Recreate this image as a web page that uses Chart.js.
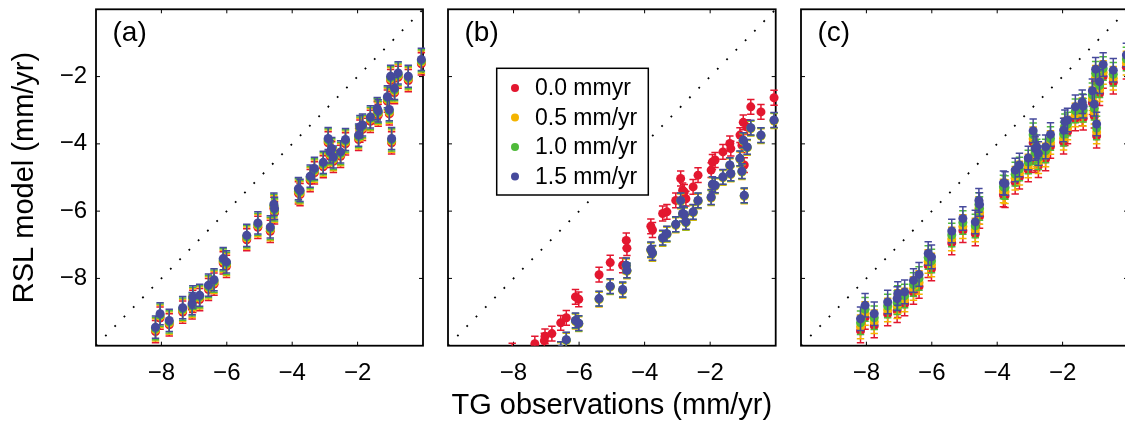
<!DOCTYPE html>
<html>
<head>
<meta charset="utf-8">
<script src="https://cdn.jsdelivr.net/npm/chart.js@4"></script>
<style>
  html, body { margin: 0; padding: 0; background: #fff; overflow: hidden; }
  body { width: 1125px; height: 424px; position: relative; }
  canvas { position: absolute; top: 0; }
</style>
</head>
<body>
<canvas id="panelA" width="440" height="424" style="left:0px"></canvas>
<canvas id="panelB" width="350" height="424" style="left:440px"></canvas>
<canvas id="panelC" width="350" height="424" style="left:790px"></canvas>
<script>
// TG observations (x), shared by all three panels
const tgObs = [-8.18, -8.04, -7.76, -7.35, -7.06, -7.04, -6.83, -6.56, -6.39, -6.11, -6.01,
  -5.39, -5.05, -4.67, -4.56, -4.54, -3.81, -3.76, -3.45, -3.32, -3.05, -2.90, -2.84, -2.79,
  -2.74, -2.52, -2.37, -1.97, -1.93, -1.85, -1.61, -1.40, -1.37, -1.09, -1.03, -0.99, -0.96,
  -0.87, -0.76, -0.45, -0.05];

// panel (a) RSL model
const rslA00 = [-9.58, -9.18, -9.38, -9.00, -8.88, -8.68, -8.63, -8.33, -8.17, -7.54, -7.64,
  -6.85, -6.48, -6.60, -5.92, -6.05, -5.46, -5.51, -5.09, -4.86, -4.68, -3.97, -4.37, -4.27,
  -4.52, -4.37, -4.00, -3.87, -3.62, -3.57, -3.33, -3.08, -3.15, -2.73, -3.11, -2.12, -3.97,
  -2.48, -2.02, -2.12, -1.62];
const rslA05 = [-9.53, -9.13, -9.33, -8.95, -8.83, -8.63, -8.58, -8.28, -8.12, -7.49, -7.59,
  -6.80, -6.43, -6.55, -5.87, -6.00, -5.41, -5.46, -5.04, -4.81, -4.63, -3.92, -4.32, -4.22,
  -4.47, -4.32, -3.95, -3.82, -3.57, -3.52, -3.28, -3.03, -3.10, -2.68, -3.06, -2.07, -3.92,
  -2.43, -1.97, -2.07, -1.57];
const rslA10 = [-9.49, -9.09, -9.29, -8.91, -8.79, -8.59, -8.54, -8.24, -8.08, -7.45, -7.55,
  -6.76, -6.39, -6.51, -5.83, -5.96, -5.37, -5.42, -5.00, -4.77, -4.59, -3.88, -4.28, -4.18,
  -4.43, -4.28, -3.91, -3.78, -3.53, -3.48, -3.24, -2.99, -3.06, -2.64, -3.02, -2.03, -3.88,
  -2.39, -1.93, -2.03, -1.53];
const rslA15 = [-9.45, -9.05, -9.25, -8.87, -8.75, -8.55, -8.50, -8.20, -8.04, -7.41, -7.51,
  -6.72, -6.35, -6.47, -5.79, -5.92, -5.33, -5.38, -4.96, -4.73, -4.55, -3.84, -4.24, -4.14,
  -4.39, -4.24, -3.87, -3.74, -3.49, -3.44, -3.20, -2.95, -3.02, -2.60, -2.98, -1.99, -3.84,
  -2.35, -1.89, -1.99, -1.49];

// panel (b) RSL model
const rslB00 = [-10.50, -10.15, -10.35, -9.94, -9.85, -9.72, -9.64, -9.32, -9.17, -8.55, -8.62,
  -7.89, -7.53, -7.61, -6.87, -7.10, -6.45, -6.56, -6.07, -6.02, -5.68, -5.03, -5.38, -5.43,
  -5.63, -5.28, -4.93, -4.78, -4.54, -4.48, -4.24, -3.99, -4.14, -3.74, -4.04, -3.36, -4.63,
  -3.50, -2.90, -3.05, -2.63];
const rslB05 = [-11.03, -10.83, -11.03, -10.63, -10.53, -10.43, -10.38, -10.13, -9.85, -9.28, -9.36,
  -8.63, -8.26, -8.36, -7.64, -7.79, -7.17, -7.27, -6.82, -6.70, -6.42, -5.71, -6.10, -6.13,
  -6.35, -6.05, -5.71, -5.61, -5.23, -5.26, -5.01, -4.66, -4.91, -4.46, -4.84, -3.92, -5.56,
  -4.12, -3.55, -3.77, -3.32];
const rslB10 = [-11.01, -10.81, -11.01, -10.61, -10.51, -10.41, -10.36, -10.11, -9.83, -9.26, -9.34,
  -8.61, -8.24, -8.34, -7.62, -7.77, -7.15, -7.25, -6.80, -6.68, -6.40, -5.69, -6.08, -6.11,
  -6.33, -6.03, -5.69, -5.59, -5.21, -5.24, -4.99, -4.64, -4.89, -4.44, -4.82, -3.90, -5.54,
  -4.10, -3.53, -3.75, -3.30];
const rslB15 = [-11.00, -10.80, -11.00, -10.60, -10.50, -10.40, -10.35, -10.10, -9.82, -9.25, -9.33,
  -8.60, -8.23, -8.33, -7.61, -7.76, -7.14, -7.24, -6.79, -6.67, -6.39, -5.68, -6.07, -6.10,
  -6.32, -6.02, -5.68, -5.58, -5.20, -5.23, -4.98, -4.63, -4.88, -4.43, -4.81, -3.89, -5.53,
  -4.09, -3.52, -3.74, -3.29];

// panel (c) RSL model
const rslC00 = [-9.56, -9.16, -9.41, -9.06, -8.96, -8.81, -8.76, -8.42, -8.24, -7.62, -7.72,
  -6.95, -6.58, -6.68, -6.04, -6.16, -5.52, -5.54, -5.14, -4.99, -4.78, -3.97, -4.50, -4.45,
  -4.65, -4.45, -4.08, -3.95, -3.70, -3.65, -3.26, -3.11, -3.24, -2.78, -3.18, -2.14, -3.77,
  -2.51, -2.00, -2.17, -1.72];
const rslC05 = [-9.44, -9.04, -9.29, -8.94, -8.84, -8.69, -8.64, -8.30, -8.12, -7.50, -7.60,
  -6.83, -6.46, -6.56, -5.92, -6.04, -5.40, -5.42, -5.02, -4.87, -4.66, -3.85, -4.38, -4.33,
  -4.53, -4.33, -3.96, -3.83, -3.58, -3.53, -3.14, -2.99, -3.12, -2.66, -3.06, -2.02, -3.65,
  -2.39, -1.88, -2.05, -1.60];
const rslC10 = [-9.32, -8.92, -9.17, -8.82, -8.72, -8.57, -8.52, -8.18, -8.00, -7.38, -7.48,
  -6.71, -6.34, -6.44, -5.80, -5.92, -5.28, -5.30, -4.90, -4.75, -4.54, -3.73, -4.26, -4.21,
  -4.41, -4.21, -3.84, -3.71, -3.46, -3.41, -3.02, -2.87, -3.00, -2.54, -2.94, -1.90, -3.53,
  -2.27, -1.76, -1.93, -1.48];
const rslC15 = [-9.20, -8.80, -9.05, -8.70, -8.60, -8.45, -8.40, -8.06, -7.88, -7.26, -7.36,
  -6.59, -6.22, -6.32, -5.68, -5.80, -5.16, -5.18, -4.78, -4.63, -4.42, -3.61, -4.14, -4.09,
  -4.29, -4.09, -3.72, -3.59, -3.34, -3.29, -2.90, -2.75, -2.88, -2.42, -2.82, -1.78, -3.41,
  -2.15, -1.64, -1.81, -1.36];

// error bar half-lengths (mm/yr) per panel
const errA = 0.33;
const errB = 0.22;
const errC = 0.35;

const seriesLabels = ['0.0 mmyr', '0.5 mm/yr', '1.0 mm/yr', '1.5 mm/yr'];
const xTicks = [-8, -6, -4, -2];
const yTicks = [-8, -6, -4, -2];
const axisRange = [-10, 0];
const oneToOne = [-10, 0];

const seriesColors = ['#e3172f', '#f4b400', '#4fba3a', '#464a9c'];
const fontFamily = '"Liberation Sans", Arial, Helvetica, sans-serif';

function minusFmt(v) {
  return String(v).replace('-', '\u2212');
}

// error bars drawn right before each dataset's markers
const errorBars = {
  id: 'errorBars',
  beforeDatasetDraw(chart, args) {
    const ds = chart.data.datasets[args.index];
    if (!ds.errHalf) return;
    const ctx = chart.ctx;
    const a = chart.chartArea;
    const y = chart.scales.y;
    ctx.save();
    ctx.beginPath();
    ctx.rect(a.left - 5, a.top - 5, a.right - a.left + 11, a.bottom - a.top + 5);
    ctx.clip();
    ctx.strokeStyle = ds.backgroundColor;
    ctx.lineWidth = 1.5;
    args.meta.data.forEach((pt, j) => {
      const v = ds.data[j].y;
      const top = y.getPixelForValue(v + ds.errHalf);
      const bot = y.getPixelForValue(v - ds.errHalf);
      ctx.beginPath();
      ctx.moveTo(pt.x, top); ctx.lineTo(pt.x, bot);
      ctx.moveTo(pt.x - 3.7, top); ctx.lineTo(pt.x + 3.7, top);
      ctx.moveTo(pt.x - 3.7, bot); ctx.lineTo(pt.x + 3.7, bot);
      ctx.stroke();
    });
    ctx.restore();
  }
};

// box round the plot area with inward tick marks on all sides
const frame = {
  id: 'frame',
  beforeDatasetsDraw(chart) {
    const ctx = chart.ctx;
    const a = chart.chartArea;
    const {x, y} = chart.scales;
    ctx.save();
    ctx.strokeStyle = '#000';
    ctx.lineWidth = 1;
    ctx.beginPath();
    xTicks.forEach(v => {
      const px = x.getPixelForValue(v);
      ctx.moveTo(px, a.bottom); ctx.lineTo(px, a.bottom - 4);
      ctx.moveTo(px, a.top); ctx.lineTo(px, a.top + 4);
    });
    yTicks.forEach(v => {
      const py = y.getPixelForValue(v);
      ctx.moveTo(a.left, py); ctx.lineTo(a.left + 4, py);
      ctx.moveTo(a.right, py); ctx.lineTo(a.right - 4, py);
    });
    ctx.stroke();
    ctx.lineWidth = 1.8;
    ctx.strokeRect(a.left, a.top, a.right - a.left, a.bottom - a.top);
    ctx.restore();
  }
};

// "(a)" style label and the boxed legend of panel (b)
const decorations = {
  id: 'decorations',
  afterDraw(chart, args, opts) {
    const ctx = chart.ctx;
    const a = chart.chartArea;
    ctx.save();
    ctx.fillStyle = '#000';
    ctx.font = '28px ' + fontFamily;
    ctx.textBaseline = 'alphabetic';
    ctx.fillText(opts.label, a.left + 16.5, a.top + 31.5);
    if (opts.legend) {
      const bx = a.left + 48.7, by = 68.3, bw = 151.6, bh = 126.7;
      ctx.fillStyle = '#fff';
      ctx.fillRect(bx, by, bw, bh);
      ctx.strokeStyle = '#000';
      ctx.lineWidth = 1.5;
      ctx.strokeRect(bx, by, bw, bh);
      ctx.font = '23px ' + fontFamily;
      ctx.textBaseline = 'middle';
      seriesLabels.forEach((lab, i) => {
        const ry = 88 + i * 29.5;
        ctx.fillStyle = seriesColors[i];
        ctx.beginPath();
        ctx.arc(bx + 18.3, ry, 4, 0, Math.PI * 2);
        ctx.fill();
        ctx.fillStyle = '#000';
        ctx.fillText(lab, bx + 38.3, ry + 1);
      });
    }
    ctx.restore();
  }
};

function makePanel(canvasId, values, err, cfg) {
  const datasets = [{
    label: '1:1',
    data: oneToOne.map(v => ({x: v, y: v})),
    showLine: true,
    borderColor: '#000',
    borderWidth: 1.8,
    borderDash: [1.8, 11.5],
    borderCapStyle: 'butt',
    pointRadius: 0,
    order: 5,
    clip: 0
  }];
  seriesLabels.forEach((lab, i) => {
    datasets.push({
      label: lab,
      data: tgObs.map((x, j) => ({x: x, y: values[i][j]})),
      backgroundColor: seriesColors[i],
      borderWidth: 0,
      pointRadius: 4.5,
      pointHoverRadius: 4.5,
      order: 4 - i,
      clip: {left: 5, top: 5, right: 6, bottom: 0},
      errHalf: err
    });
  });

  return new Chart(document.getElementById(canvasId), {
    type: 'scatter',
    data: {datasets: datasets},
    plugins: [errorBars, frame, decorations],
    options: {
      responsive: false,
      animation: false,
      events: [],
      layout: {padding: {left: cfg.padLeft, right: cfg.padRight, top: 9.3, bottom: 0}},
      plugins: {
        legend: {display: false},
        tooltip: {enabled: false},
        decorations: {label: cfg.label, legend: cfg.legend}
      },
      scales: {
        x: {
          type: 'linear',
          min: axisRange[0],
          max: axisRange[1],
          grid: {display: false, drawTicks: false},
          border: {display: false},
          afterBuildTicks: s => { s.ticks = xTicks.map(v => ({value: v})); },
          afterFit: s => { s.height = 78.3; s.paddingLeft = 0; s.paddingRight = 0; },
          ticks: {
            font: {family: fontFamily, size: 24},
            color: '#000',
            padding: 13,
            maxRotation: 0,
            autoSkip: false,
            callback: v => minusFmt(v)
          },
          title: {
            display: cfg.xTitle,
            text: 'TG observations (mm/yr)',
            font: {family: fontFamily, size: 29},
            color: '#000',
            padding: {top: 0, bottom: 1}
          }
        },
        y: {
          type: 'linear',
          display: cfg.yAxis,
          min: axisRange[0],
          max: axisRange[1],
          grid: {display: false, drawTicks: false},
          border: {display: false},
          afterBuildTicks: s => { s.ticks = yTicks.map(v => ({value: v})); },
          afterFit: s => { s.width = cfg.yAxis ? 96 : 0; s.paddingTop = 0; s.paddingBottom = 0; },
          ticks: {
            font: {family: fontFamily, size: 24},
            color: '#000',
            padding: 9,
            callback: v => minusFmt(v)
          },
          title: {
            display: true,
            text: 'RSL model (mm/yr)',
            font: {family: fontFamily, size: 29},
            color: '#000',
            padding: {top: 8, bottom: 0}
          }
        }
      }
    }
  });
}

makePanel('panelA', [rslA00, rslA05, rslA10, rslA15], errA,
  {label: '(a)', legend: false, xTitle: false, yAxis: true, padLeft: 0, padRight: 17});
makePanel('panelB', [rslB00, rslB05, rslB10, rslB15], errB,
  {label: '(b)', legend: true, xTitle: true, yAxis: false, padLeft: 8, padRight: 14.3});
makePanel('panelC', [rslC00, rslC05, rslC10, rslC15], errC,
  {label: '(c)', legend: false, xTitle: false, yAxis: false, padLeft: 11, padRight: 12});
</script>
</body>
</html>
